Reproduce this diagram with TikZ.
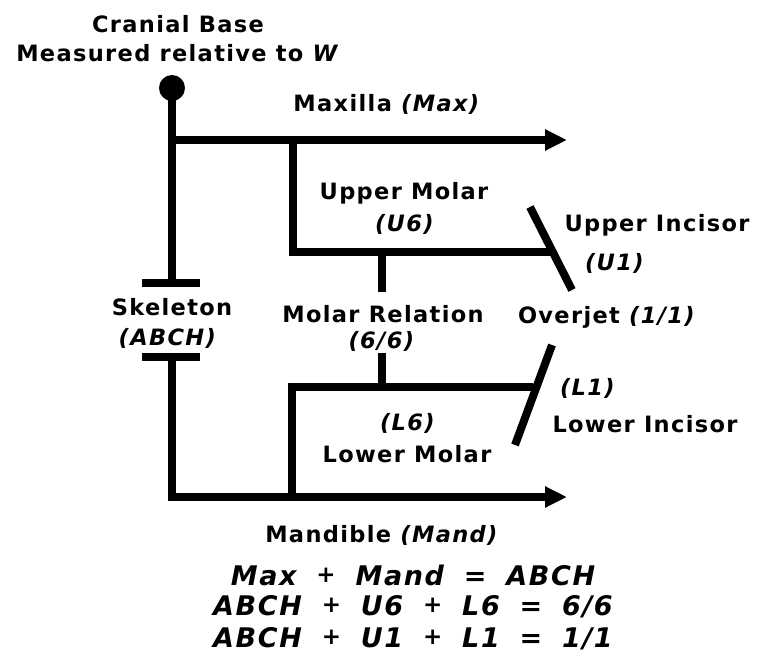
\documentclass[tikz,border=0pt]{standalone}
\usepackage{fontspec}
\setmainfont{DejaVu Sans}[LetterSpace=6]
\newfontfamily\sumfont{DejaVu Sans}[LetterSpace=6,WordSpace=1.8]
\usetikzlibrary{arrows.meta}
\newcommand\smallplus{{\fontsize{23}{23}\selectfont\raisebox{2.5pt}{+}}}
\tikzset{
  bone/.style={line width=8pt,line join=miter},
  growth/.style={bone,-{Triangle[length=22pt,width=20pt]}},
  lbl/.style={inner sep=0pt,anchor=base,font=\fontsize{22.5}{25}\selectfont\bfseries},
  eqn/.style={inner sep=0pt,anchor=base,font=\fontsize{27}{31}\sumfont\bfseries\itshape},
}

\begin{document}
\begin{tikzpicture}[x=1pt,y=-1pt]
  \useasboundingbox (0,0) rectangle (757,668);
  % junctions
  \coordinate (cb)   at (172,88);
  \coordinate (mx0)  at (172,140);
  \coordinate (mx1)  at (567,140);
  \coordinate (sk0)  at (172,283);
  \coordinate (sk1)  at (172,357);
  \coordinate (md0)  at (172,497);
  \coordinate (md1)  at (567,497);
  \coordinate (um0)  at (293,140);
  \coordinate (um1)  at (293,252);
  \coordinate (um2)  at (550,252);
  \coordinate (mr0)  at (382,252);
  \coordinate (mr1)  at (382,292);
  \coordinate (mr2)  at (382,353);
  \coordinate (mr3)  at (382,387);
  \coordinate (lm0)  at (533,387);
  \coordinate (lm1)  at (292,387);
  \coordinate (lm2)  at (292,497);
  \coordinate (ui0)  at (530,207);
  \coordinate (ui1)  at (572,290);
  \coordinate (li0)  at (552,345);
  \coordinate (li1)  at (515,445);

  % skeleton
  \fill (cb) circle (13pt);
  \draw[bone] (cb) -- (sk0);
  \draw[bone] ([xshift=-30pt]sk0) -- ([xshift=28pt]sk0);
  \draw[bone] ([xshift=-30pt]sk1) -- ([xshift=28pt]sk1);
  \draw[growth] (mx0) -- (mx1);
  \draw[growth] (sk1) -- (md0) -- (md1);
  % molars
  \draw[bone] (um0) -- (um1) -- (um2);
  \draw[bone] (mr0) -- (mr1);
  \draw[bone] (mr2) -- (mr3);
  \draw[bone] (lm0) -- (lm1) -- (lm2);
  % incisors
  \draw[bone] (ui0) -- (ui1);
  \draw[bone] (li0) -- (li1);

  % labels
  \node[lbl] (cran)  at (178,33)  {Cranial Base};
  \node[lbl] (meas)  at (178,62)  {Measured relative to \textit{W}};
  \node[lbl] (max)   at (387,112) {Maxilla \textit{(Max)}};
  \node[lbl] (umol)  at (404,200) {Upper Molar};
  \node[lbl] (usix)  at (405,232) {\textit{(U6)}};
  \node[lbl] (skel)  at (172,315) {Skeleton};
  \node[lbl] (abch)  at (168,345) {\textit{(ABCH)}};
  \node[lbl] (mrel)  at (383,322) {Molar Relation};
  \node[lbl] (ratio) at (382,348) {\textit{(6/6)}};
  \node[lbl] (lsix)  at (408,430) {\textit{(L6)}};
  \node[lbl] (lmol)  at (407,462) {Lower Molar};
  \node[lbl] (mand)  at (382,542) {Mandible \textit{(Mand)}};
  \node[lbl] (uinc)  at (657,232) {Upper Incisor};
  \node[lbl] (uone)  at (615,270) {\textit{(U1)}};
  \node[lbl] (ojet)  at (607,323) {Overjet \textit{(1/1)}};
  \node[lbl] (lone)  at (588,395) {\textit{(L1)}};
  \node[lbl] (linc)  at (645,432) {Lower Incisor};

  % sums
  \node[eqn] (eqa) at (413,585) {Max \smallplus{} Mand = ABCH};
  \node[eqn] (eqb) at (413,615) {ABCH \smallplus{} U6 \smallplus{} L6 = 6/6};
  \node[eqn] (eqc) at (413,647) {ABCH \smallplus{} U1 \smallplus{} L1 = 1/1};
\end{tikzpicture}
\end{document}
